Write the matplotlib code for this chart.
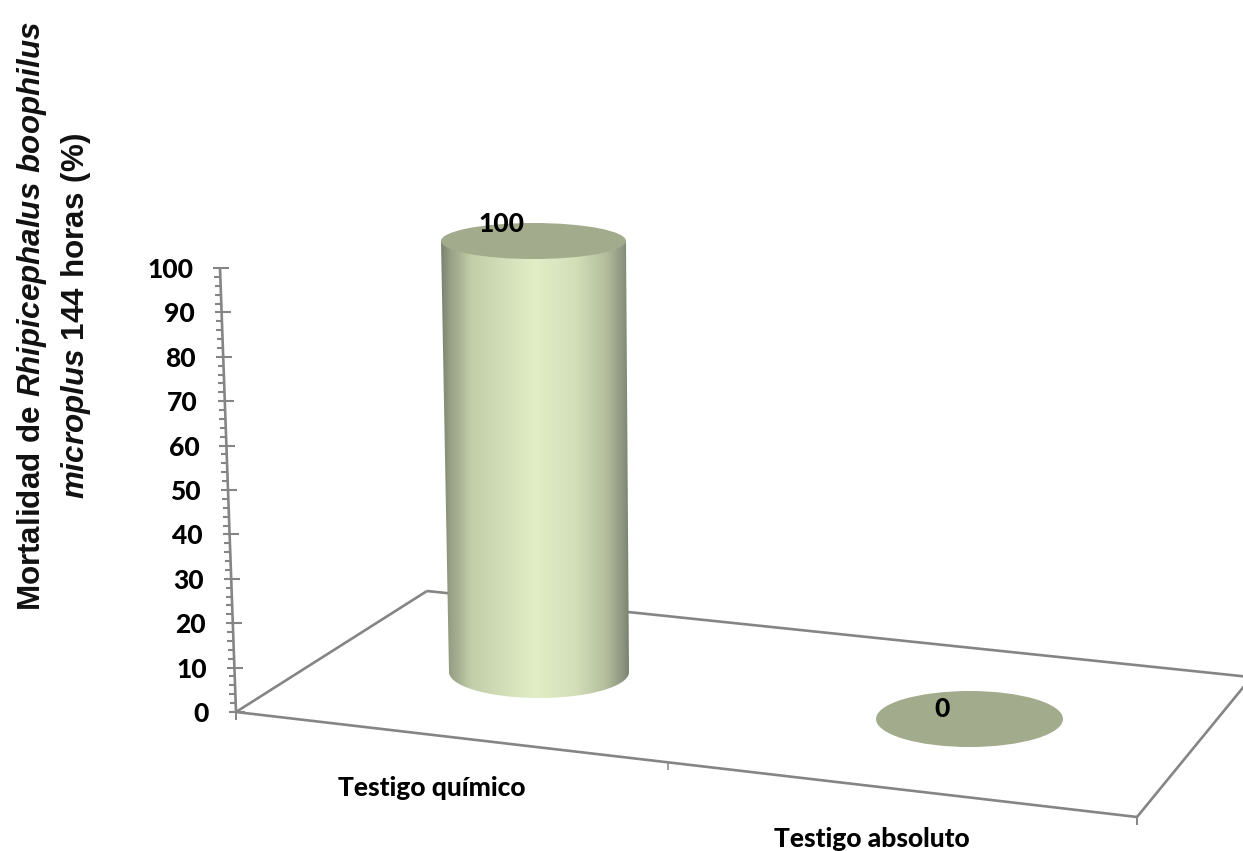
import matplotlib
matplotlib.use('Agg')
import matplotlib.pyplot as plt
import numpy as np
from matplotlib.colors import LinearSegmentedColormap
from matplotlib.patches import Ellipse, PathPatch
from matplotlib.path import Path

categories = ['Testigo químico', 'Testigo absoluto']
values = [100, 0]
y_ticks = [0, 10, 20, 30, 40, 50, 60, 70, 80, 90, 100]

title_text = ('$\\mathbf{Mortalidad\\ de}$ $\\mathbfit{Rhipicephalus\\ boophilus}$\n'
              '$\\mathbfit{microplus}$ $\\mathbf{144\\ horas\\ (\\%)}$')

# layout of the fake 3D scene, in figure pixels
W, H = 1243, 851
origin = (236, 712)
axis_top = (220, 268)
floor_back_left = (427, 591)
floor_back_right = (1250, 677)
floor_front_right = (1137, 817)
floor_right_end = (1250, 679)
base_x = [539, 969.5]
base_y = [672, 719]
base_rx = [90, 93.5]
base_ry = [26, 28]
label_x = [432, 872]
label_y = [788, 839]
value_off = [(-32.5, -17), (-27.5, -10)]

GREY = '#858585'
TOP = '#a3ab8d'
shade = LinearSegmentedColormap.from_list('cyl', [
    (0.00, '#7c8270'), (0.05, '#98a085'), (0.16, '#c2cea8'), (0.50, '#e2eec6'),
    (0.72, '#d3dfb8'), (0.88, '#b3bd9d'), (0.97, '#8d9480'), (1.00, '#7c8270')])

plt.rcParams['mathtext.fontset'] = 'custom'
plt.rcParams['mathtext.bfit'] = 'Liberation Sans:italic:bold'
plt.rcParams['mathtext.bf'] = 'Liberation Sans:bold'
plt.rcParams['mathtext.rm'] = 'Liberation Sans:bold'

fig = plt.figure(figsize=(W / 100, H / 100), dpi=100)
ax = fig.add_axes([0, 0, 1, 1])


def axis_pos(v):
    # point on the slanted value axis for value v
    t = v / 100
    return origin[0] + (axis_top[0] - origin[0]) * t, origin[1] + (axis_top[1] - origin[1]) * t


def cylinder_top(i, v):
    # perspective: the top narrows vertically and shifts as the value grows
    t = v / 100
    return (base_x[i] - 5.5 * t, base_y[i] - 431 * t,
            base_rx[i] + 2.5 * t, base_ry[i] - 8 * t)


def line(p, q, lw=1.9):
    ax.plot([p[0], q[0]], [p[1], q[1]], color=GREY, lw=lw, solid_capstyle='butt', zorder=1)


# floor outline
line(origin, floor_back_left)
line(floor_back_left, floor_back_right)
line(origin, floor_front_right)
line(floor_front_right, floor_right_end)

# ticks under the front floor edge
slope = (floor_front_right[1] - origin[1]) / (floor_front_right[0] - origin[0])
mid_x = 668
line((mid_x, origin[1] + slope * (mid_x - origin[0])),
     (mid_x, origin[1] + slope * (mid_x - origin[0]) + 8), lw=1.1)
line(origin, (origin[0], origin[1] + 8), lw=1.4)
line(floor_front_right, (floor_front_right[0], floor_front_right[1] + 8), lw=1.4)

# value axis with major and minor ticks
line(origin, axis_top)
for v in range(0, 101, 2):
    x, y = axis_pos(v)
    if v % 10 == 0:
        line((x - 7, y), (x + 9, y), lw=1.5)
    else:
        line((x - 6, y), (x, y), lw=1.5)
for v in y_ticks:
    x, y = axis_pos(v)
    ax.text(x - 27, y + 2, str(v), ha='right', va='center', fontsize=19,
            family='Lato', fontweight='black', color='black', zorder=5)

# cylinders
for i, v in enumerate(values):
    cx, cy, rx, ry = cylinder_top(i, v)
    if v > 0:
        a = np.linspace(0, np.pi, 80)
        bottom = np.column_stack([base_x[i] + base_rx[i] * np.cos(a),
                                  base_y[i] + base_ry[i] * np.sin(a)])
        top = np.column_stack([cx - rx * np.cos(a), np.full(80, cy)])
        verts = np.vstack([bottom, top])
        left = min(cx - rx, base_x[i] - base_rx[i])
        right = max(cx + rx, base_x[i] + base_rx[i])
        grad = np.linspace(0, 1, 256).reshape(1, -1)
        im = ax.imshow(grad, cmap=shade, extent=(left, right, base_y[i] + base_ry[i], cy),
                       aspect='auto', zorder=2, interpolation='bilinear')
        im.set_clip_path(PathPatch(Path(verts), transform=ax.transData))
    ax.add_patch(Ellipse((cx, cy), 2 * rx, 2 * ry, facecolor=TOP, edgecolor='none', zorder=3))
    ax.text(cx + value_off[i][0], cy + value_off[i][1], str(v), ha='center', va='center',
            fontsize=19, family='Lato', fontweight='black', color='black', zorder=5)

# category labels
for i, name in enumerate(categories):
    ax.text(label_x[i], label_y[i], name, ha='center', va='center', fontsize=19,
            family='Lato', fontweight='black', color='black')

# value axis title
ax.text(54, 316, title_text, rotation=90, ha='center', va='center', multialignment='center',
        fontsize=22.6, family='Liberation Sans', fontweight='bold', color='#111111',
        linespacing=1.4)

ax.set_xlim(0, W)
ax.set_ylim(H, 0)
ax.axis('off')
fig.savefig('out.png', dpi=100, facecolor='white')
